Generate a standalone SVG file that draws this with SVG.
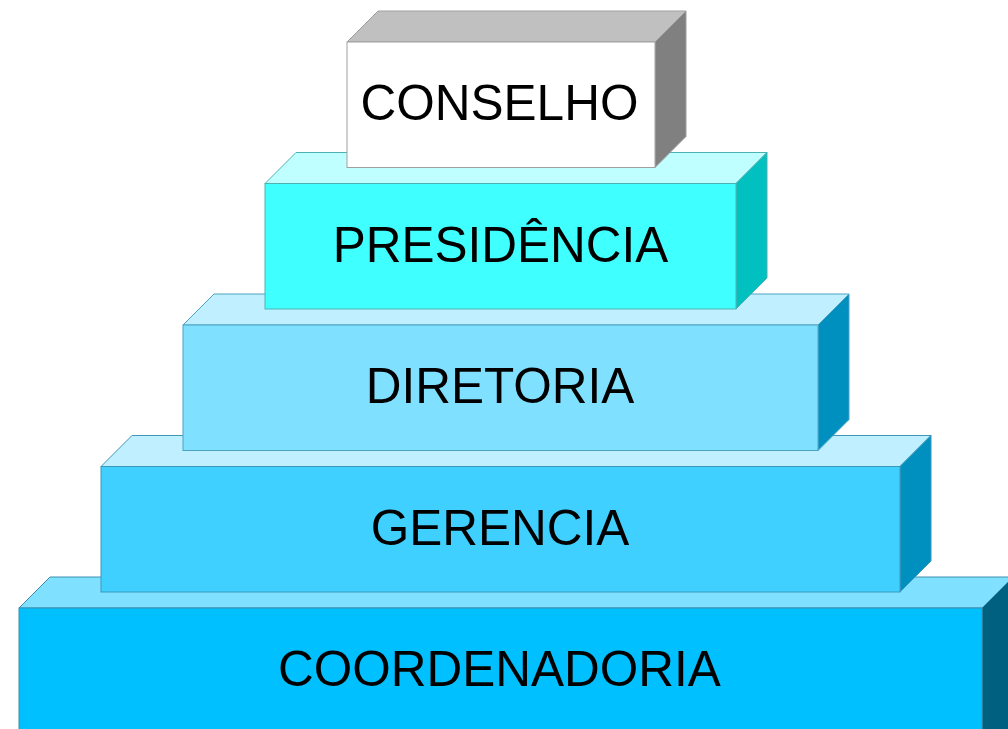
<svg xmlns="http://www.w3.org/2000/svg" width="1008" height="729" viewBox="0 0 1008 729">
<style>
text{font-family:"Liberation Sans",Arial,sans-serif;font-size:49.5px;fill:#000;text-anchor:middle}
polygon,rect{stroke-width:1;stroke-linejoin:miter}
</style>
<rect width="1008" height="729" fill="#fff"/>
<g id="coordenadoria" stroke="#3d8fae">
<polygon points="19,608 50,577 1013,577 982,608" fill="#80e0ff"/>
<polygon points="982,608 1013,577 1013,740 982,740" fill="#006080"/>
<rect x="19" y="608" width="963" height="132" fill="#00c0ff"/>
<text x="499.5" y="686" stroke="none">COORDENADORIA</text>
</g>
<g id="gerencia" stroke="#3d97bb">
<polygon points="101,466.5 132,435.5 931,435.5 900,466.5" fill="#c0f0ff"/>
<polygon points="900,466.5 931,435.5 931,561 900,592" fill="#0090c0"/>
<rect x="101" y="466.5" width="799" height="125.5" fill="#40d0ff"/>
<text x="500" y="544.5" stroke="none">GERENCIA</text>
</g>
<g id="diretoria" stroke="#4aa3c4">
<polygon points="183,325 214,294 849,294 818,325" fill="#c0f0ff"/>
<polygon points="818,325 849,294 849,419.5 818,450.5" fill="#0090c0"/>
<rect x="183" y="325" width="635" height="125.5" fill="#80e0ff"/>
<text x="500" y="403" stroke="none">DIRETORIA</text>
</g>
<g id="presidencia" stroke="#4bb3b3">
<polygon points="265,183.5 296,152.5 767,152.5 736,183.5" fill="#c0ffff"/>
<polygon points="736,183.5 767,152.5 767,278 736,309" fill="#00c0c0"/>
<rect x="265" y="183.5" width="471" height="125.5" fill="#40ffff"/>
<text x="500.5" y="261.5" stroke="none">PRESIDÊNCIA</text>
</g>
<g id="conselho" stroke="#a0a0a0">
<polygon points="347,42 378,11 686,11 655,42" fill="#c0c0c0"/>
<polygon points="655,42 686,11 686,136.5 655,167.5" fill="#808080"/>
<rect x="347" y="42" width="308" height="125.5" fill="#ffffff"/>
<text x="499.5" y="119.5" stroke="none">CONSELHO</text>
</g>
<g id="connectors"/>
</svg>
